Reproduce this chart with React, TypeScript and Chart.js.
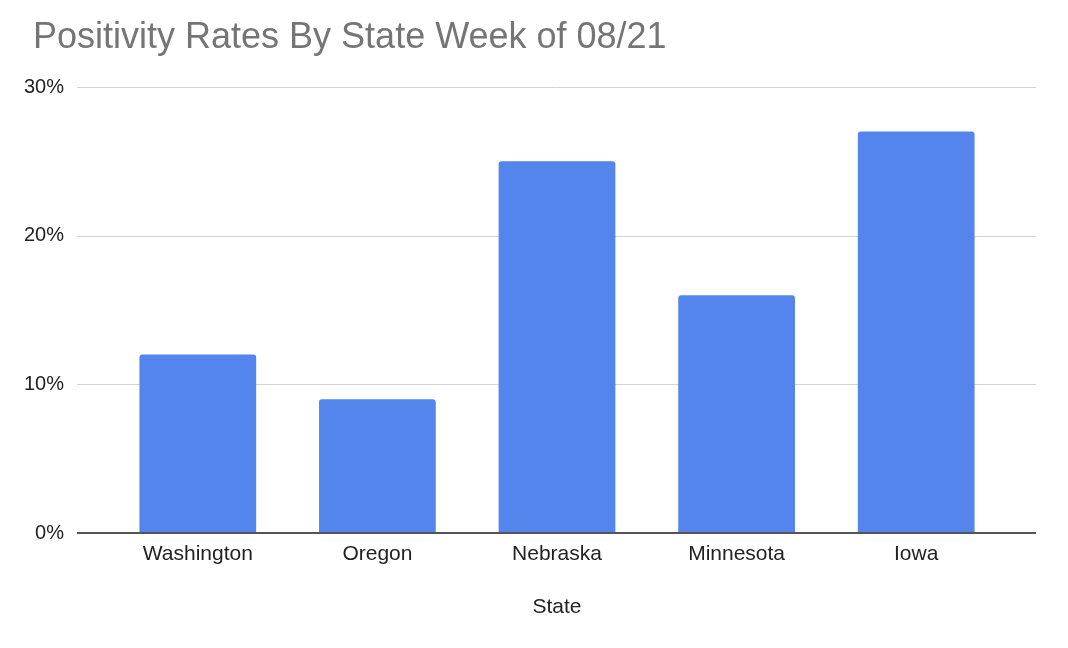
import React, { useEffect, useRef } from "react";
import { Chart, registerables } from "chart.js";

Chart.register(...registerables);

const chartTitle = "Positivity Rates By State Week of 08/21";
const states = ["Washington", "Oregon", "Nebraska", "Minnesota", "Iowa"];
const positivity = [12, 9, 25, 16, 27];
const yTickValues = [0, 10, 20, 30];
const xAxisTitle = "State";

const FONT = "'Liberation Sans', Arial, Helvetica, sans-serif";
const BAR_COLOR = "#5385ec";

const extrasPlugin = {
  id: "sheetExtras",
  beforeDatasetsDraw(chart: any) {
    const { ctx, chartArea, scales } = chart;
    const y = scales.y;
    const left = chartArea.left - 31;
    const right = chartArea.right + 30;
    ctx.save();
    ctx.strokeStyle = "#d4d4d4";
    ctx.lineWidth = 1;
    y.ticks.forEach((t: any) => {
      if (t.value === 0) return;
      const py = Math.round(y.getPixelForValue(t.value)) + 0.5;
      ctx.beginPath();
      ctx.moveTo(left, py);
      ctx.lineTo(right, py);
      ctx.stroke();
    });
    ctx.restore();
  },
  afterDatasetsDraw(chart: any) {
    const { ctx, chartArea, scales } = chart;
    const y = scales.y;
    const left = chartArea.left - 31;
    const right = chartArea.right + 30;
    const py = Math.round(y.getPixelForValue(0));
    ctx.save();
    ctx.strokeStyle = "#555555";
    ctx.lineWidth = 2;
    ctx.beginPath();
    ctx.moveTo(left, py);
    ctx.lineTo(right, py);
    ctx.stroke();
    ctx.fillStyle = "#757575";
    ctx.font = `36px ${FONT}`;
    ctx.textAlign = "left";
    ctx.textBaseline = "alphabetic";
    ctx.fillText(chartTitle, 33, 48);
    ctx.restore();
  },
};

export default function App() {
  const canvasRef = useRef<HTMLCanvasElement | null>(null);

  useEffect(() => {
    const canvas = canvasRef.current;
    if (!canvas) return;
    const chart = new Chart(canvas, {
      type: "bar",
      data: {
        labels: states,
        datasets: [
          {
            label: "Positivity",
            data: positivity,
            backgroundColor: BAR_COLOR,
            borderRadius: 3,
            borderSkipped: "bottom",
            barPercentage: 0.65,
            categoryPercentage: 1,
          },
        ],
      },
      options: {
        responsive: false,
        animation: false,
        layout: { padding: { left: 0, right: 62, top: 87, bottom: 0 } },
        plugins: {
          legend: { display: false },
          title: { display: false },
          tooltip: { enabled: false },
        },
        scales: {
          x: {
            grid: { display: false, drawTicks: false },
            border: { display: false },
            ticks: {
              color: "#222222",
              font: { family: FONT, size: 21 },
              padding: 9,
              maxRotation: 0,
            },
            title: {
              display: true,
              text: xAxisTitle,
              color: "#222222",
              font: { family: FONT, size: 21 },
              padding: { top: 0, bottom: 28 },
            },
            afterFit: (s: any) => {
              s.height = 115;
            },
          },
          y: {
            min: 0,
            max: 30,
            grid: { display: false, drawTicks: false },
            border: { display: false },
            afterBuildTicks: (s: any) => {
              s.ticks = yTickValues.map((v) => ({ value: v }));
            },
            ticks: {
              color: "#222222",
              font: { family: FONT, size: 20 },
              padding: 44,
              callback: (v: any) => `${v}%`,
            },
            afterFit: (s: any) => {
              s.width = 108;
            },
          },
        },
      },
      plugins: [extrasPlugin],
    });
    return () => chart.destroy();
  }, []);

  return (
    <div style={{ position: "absolute", left: 0, top: 0, width: 1068, height: 648, background: "#ffffff" }}>
      <canvas ref={canvasRef} width={1068} height={648} />
    </div>
  );
}
